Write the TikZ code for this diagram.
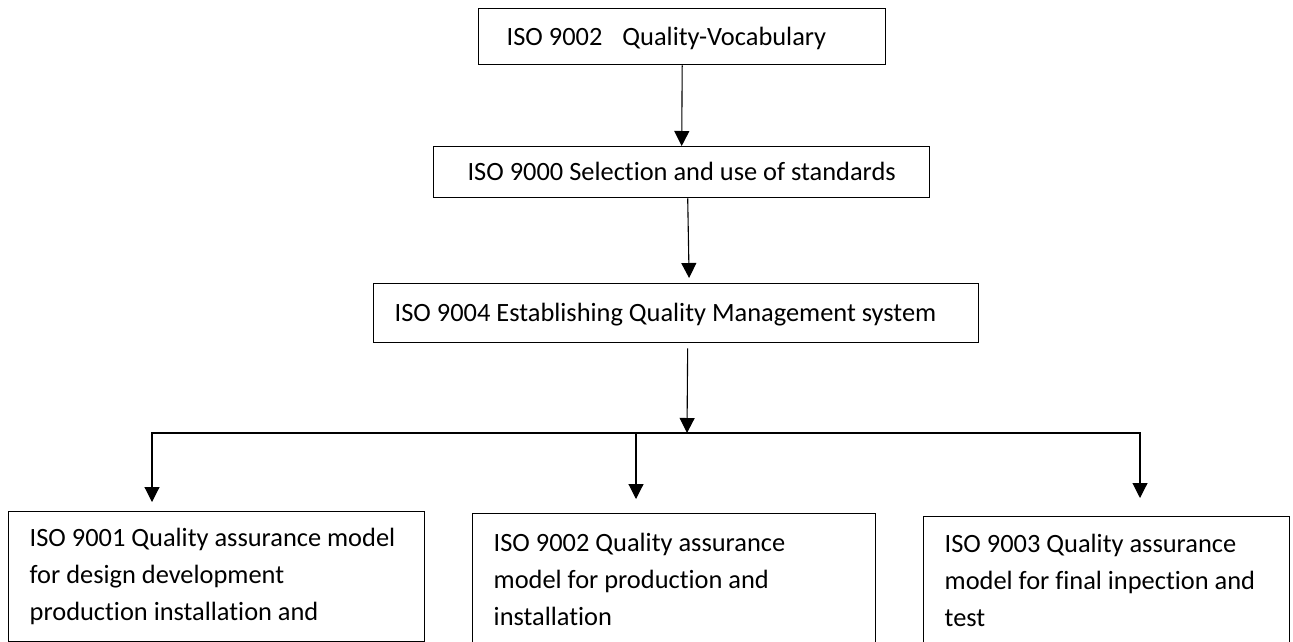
\documentclass[tikz,border=0pt]{standalone}
\usepackage{fontspec}
\setmainfont{Carlito}[Ligatures=NoCommon]
\usetikzlibrary{arrows.meta}

\begin{document}
\begin{tikzpicture}[x=1pt,y=-1pt,
	box/.style={draw, line width=1.4pt, anchor=north west, align=flush left, inner xsep=21pt, inner ysep=0pt, font=\fontsize{26.4}{37}\selectfont},
	oneline/.style={text height=17pt, text depth=0pt},
	arr/.style={-{Triangle[length=15pt,width=15pt]}, line width=1.1pt}]
				\useasboundingbox (0,0) rectangle (1293,641);
				\clip (0,0) rectangle (1293,641);
				\node[box, oneline, inner xsep=28pt, text width=351pt, minimum height=56pt] (voc) at (478,8) {ISO 9002\hspace{20pt}Quality-Vocabulary};
				\node[box, oneline, align=center, minimum width=496pt, minimum height=51pt] (sel) at (433,146) {ISO 9000 Selection and use of standards};
				\draw[arr] (voc.south) -- (sel.north);
				\node[box, oneline, text width=563pt, minimum height=59pt] (qms) at (373,283) {ISO 9004 Establishing Quality Management system};
				\draw[arr, shorten >=5pt] ([xshift=6pt]sel.south) -- ([xshift=13pt]qms.north);
				\coordinate (split) at (687,433);
				\draw[arr, shorten <=5pt] ([xshift=11.5pt]qms.south) -- (split);
				\node[box, text width=374pt, minimum height=130pt] (iso1) at (8,511) {ISO 9001 Quality assurance model\\for design development\\production installation and};
				\node[box, text width=361pt, minimum height=132pt] (iso2) at (472,513) {ISO 9002 Quality assurance\\model for production and\\installation};
				\node[box, text width=324pt, minimum height=127pt] (iso3) at (923,516) {ISO 9003 Quality assurance\\model for final inpection and\\test};
				\coordinate (t1) at (152,502);
				\coordinate (t2) at (636,499);
				\coordinate (t3) at (1140,498);
				\draw[arr] (split) -| (t1);
				\draw[arr] (split) -| (t3);
				\draw[arr] (split -| t2) -- (t2);
			\end{tikzpicture}
\end{document}
